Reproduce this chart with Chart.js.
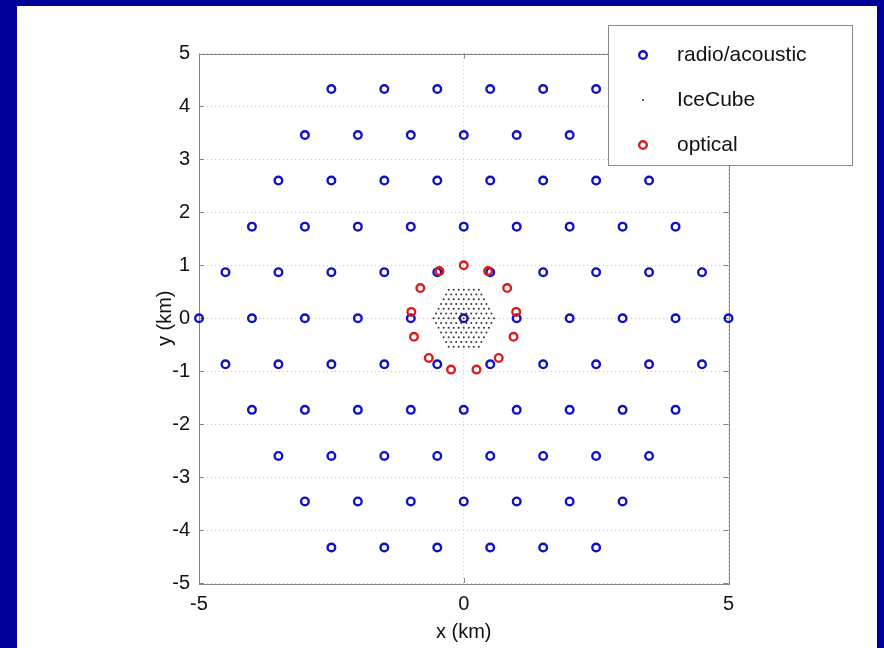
<!DOCTYPE html>
<html>
<head>
<meta charset="utf-8">
<script src="https://cdn.jsdelivr.net/npm/chart.js@4.4.0/dist/chart.umd.min.js"></script>
<style>
  html, body { margin: 0; padding: 0; background: #000099; }
  #frame { position: absolute; left: 17px; top: 6px; width: 860px; height: 642px; background: #fff; }
  canvas { display: block; }
</style>
</head>
<body>
<div id="frame"><canvas id="chart" width="860" height="642"></canvas></div>
<script>
// 数据: 行的 y 值和每行的 x 值 (km)
const radioRowY = [4.33, 3.46, 2.6, 1.73, 0.87, 0, -0.87, -1.73, -2.6, -3.46, -4.33];
const radioRowX = [
    [-2.5, -1.5, -0.5, 0.5, 1.5, 2.5],
    [-3, -2, -1, 0, 1, 2, 3],
    [-3.5, -2.5, -1.5, -0.5, 0.5, 1.5, 2.5, 3.5],
    [-4, -3, -2, -1, 0, 1, 2, 3, 4],
    [-4.5, -3.5, -2.5, -1.5, -0.5, 0.5, 1.5, 2.5, 3.5, 4.5],
    [-5, -4, -3, -2, -1, 0, 1, 2, 3, 4, 5],
    [-4.5, -3.5, -2.5, -1.5, -0.5, 0.5, 1.5, 2.5, 3.5, 4.5],
    [-4, -3, -2, -1, 0, 1, 2, 3, 4],
    [-3.5, -2.5, -1.5, -0.5, 0.5, 1.5, 2.5, 3.5],
    [-3, -2, -1, 0, 1, 2, 3],
    [-2.5, -1.5, -0.5, 0.5, 1.5, 2.5]
];

const icecubeRowY = [0.54, 0.45, 0.36, 0.27, 0.18, 0.09, 0, -0.09, -0.18, -0.27, -0.36, -0.45, -0.54];
const icecubeRowX = [
    [-0.285, -0.19, -0.095, 0, 0.095, 0.19, 0.285],
    [-0.333, -0.238, -0.143, -0.048, 0.048, 0.143, 0.238, 0.333],
    [-0.38, -0.285, -0.19, -0.095, 0, 0.095, 0.19, 0.285, 0.38],
    [-0.428, -0.333, -0.238, -0.143, -0.048, 0.048, 0.143, 0.238, 0.333, 0.428],
    [-0.475, -0.38, -0.285, -0.19, -0.095, 0, 0.095, 0.19, 0.285, 0.38, 0.475],
    [-0.523, -0.428, -0.333, -0.238, -0.143, -0.048, 0.048, 0.143, 0.238, 0.333, 0.428, 0.523],
    [-0.57, -0.475, -0.38, -0.285, -0.19, -0.095, 0, 0.095, 0.19, 0.285, 0.38, 0.475, 0.57],
    [-0.523, -0.428, -0.333, -0.238, -0.143, -0.048, 0.048, 0.143, 0.238, 0.333, 0.428, 0.523],
    [-0.475, -0.38, -0.285, -0.19, -0.095, 0, 0.095, 0.19, 0.285, 0.38, 0.475],
    [-0.428, -0.333, -0.238, -0.143, -0.048, 0.048, 0.143, 0.238, 0.333, 0.428],
    [-0.38, -0.285, -0.19, -0.095, 0, 0.095, 0.19, 0.285, 0.38],
    [-0.333, -0.238, -0.143, -0.048, 0.048, 0.143, 0.238, 0.333],
    [-0.285, -0.19, -0.095, 0, 0.095, 0.19, 0.285]
];

const opticalX = [0, -0.46, -0.82, -0.99, -0.94, -0.66, -0.24, 0.24, 0.66, 0.94, 0.99, 0.82, 0.46];
const opticalY = [1, 0.89, 0.57, 0.12, -0.35, -0.75, -0.97, -0.97, -0.75, -0.35, 0.12, 0.57, 0.89];

const seriesLabels = ['radio/acoustic', 'IceCube', 'optical'];
const xTicks = [-5, 0, 5];
const yTicks = [-5, -4, -3, -2, -1, 0, 1, 2, 3, 4, 5];

// 把行表展开成点
function rowsToPoints(rowY, rowX) {
    const pts = [];
    rowY.forEach((y, i) => rowX[i].forEach(x => pts.push({x: x, y: y})));
    return pts;
}

const radioPoints = rowsToPoints(radioRowY, radioRowX);
const icecubePoints = rowsToPoints(icecubeRowY, icecubeRowX);
const opticalPoints = opticalX.map((x, i) => ({x: x, y: opticalY[i]}));

const BLUE = '#1010c4';
const RED = '#dc1c1c';
const FONT = 'Liberation Sans, Arial, Helvetica, sans-serif';

// 坐标框和向内的刻度线
const boxPlugin = {
    id: 'box',
    beforeDatasetsDraw(chart) {
        const {ctx, chartArea: a, scales: {x, y}} = chart;
        ctx.save();
        ctx.strokeStyle = '#858585';
        ctx.lineWidth = 1;
        ctx.strokeRect(Math.round(a.left) + 0.5, Math.round(a.top) + 0.5,
            Math.round(a.right - a.left), Math.round(a.bottom - a.top));
        ctx.beginPath();
        x.ticks.forEach(t => {
            const px = Math.round(x.getPixelForValue(t.value)) + 0.5;
            ctx.moveTo(px, a.bottom); ctx.lineTo(px, a.bottom - 5);
            ctx.moveTo(px, a.top); ctx.lineTo(px, a.top + 5);
        });
        y.ticks.forEach(t => {
            const py = Math.round(y.getPixelForValue(t.value)) + 0.5;
            ctx.moveTo(a.left, py); ctx.lineTo(a.left + 5, py);
            ctx.moveTo(a.right, py); ctx.lineTo(a.right - 5, py);
        });
        ctx.stroke();
        ctx.restore();
    }
};

// MATLAB 风格图例, 盖在点上面
const legendBoxPlugin = {
    id: 'legendBox',
    afterDraw(chart) {
        const ctx = chart.ctx;
        const left = 591, top = 19, w = 244, h = 140;
        ctx.save();
        ctx.fillStyle = '#fff';
        ctx.fillRect(left, top, w, h);
        ctx.strokeStyle = '#8a8a8a';
        ctx.lineWidth = 1;
        ctx.strokeRect(left + 0.5, top + 0.5, w, h);
        ctx.font = '21px ' + FONT;
        ctx.textBaseline = 'middle';
        chart.data.datasets.forEach((ds, i) => {
            const cy = top + 30 + i * 45;
            const cx = left + 35;
            ctx.beginPath();
            ctx.arc(cx, cy, ds.pointRadius, 0, Math.PI * 2);
            if (ds.pointBorderWidth > 0) {
                ctx.strokeStyle = ds.pointBorderColor;
                ctx.lineWidth = ds.pointBorderWidth;
                ctx.stroke();
            } else {
                ctx.fillStyle = ds.pointBackgroundColor;
                ctx.fill();
            }
            ctx.fillStyle = '#111';
            ctx.fillText(ds.label, left + 69, cy);
        });
        ctx.restore();
    }
};

new Chart(document.getElementById('chart'), {
    type: 'scatter',
    data: {
        datasets: [{
            label: seriesLabels[0],
            data: radioPoints,
            pointRadius: 3.8,
            pointBorderWidth: 2.4,
            pointBorderColor: BLUE,
            pointBackgroundColor: 'rgba(0,0,0,0)',
            clip: false,
            order: 3
        }, {
            label: seriesLabels[1],
            data: icecubePoints,
            pointRadius: 1,
            pointBorderWidth: 0,
            pointBorderColor: '#000',
            pointBackgroundColor: '#333',
            clip: false,
            order: 2
        }, {
            label: seriesLabels[2],
            data: opticalPoints,
            pointRadius: 3.8,
            pointBorderWidth: 2.4,
            pointBorderColor: RED,
            pointBackgroundColor: 'rgba(0,0,0,0)',
            clip: false,
            order: 1
        }]
    },
    options: {
        responsive: false,
        animation: false,
        events: [],
        layout: {
            padding: {left: 130, right: 148.5, top: 47.5, bottom: 0}
        },
        plugins: {
            legend: {display: false},
            tooltip: {enabled: false}
        },
        scales: {
            x: {
                type: 'linear',
                min: -5,
                max: 5,
                afterBuildTicks: s => { s.ticks = xTicks.map(v => ({value: v})); },
                afterFit: s => { s.height = 65; },
                ticks: {
                    color: '#111',
                    padding: 9,
                    maxRotation: 0,
                    font: {family: FONT, size: 20}
                },
                grid: {color: '#c4c4c4', drawTicks: false, lineWidth: 1},
                border: {display: false, dash: [1, 3]},
                title: {
                    display: true,
                    text: 'x (km)',
                    color: '#111',
                    font: {family: FONT, size: 20},
                    padding: {top: 0, bottom: 4}
                }
            },
            y: {
                type: 'linear',
                min: -5,
                max: 5,
                afterBuildTicks: s => { s.ticks = yTicks.map(v => ({value: v})); },
                afterFit: s => { s.width = 52; },
                ticks: {
                    color: '#111',
                    padding: 9,
                    font: {family: FONT, size: 20}
                },
                grid: {color: '#c4c4c4', drawTicks: false, lineWidth: 1},
                border: {display: false, dash: [1, 3]},
                title: {
                    display: true,
                    text: 'y (km)',
                    color: '#111',
                    font: {family: FONT, size: 20},
                    padding: {top: 6, bottom: 0}
                }
            }
        }
    },
    plugins: [boxPlugin, legendBoxPlugin]
});
</script>
</body>
</html>
